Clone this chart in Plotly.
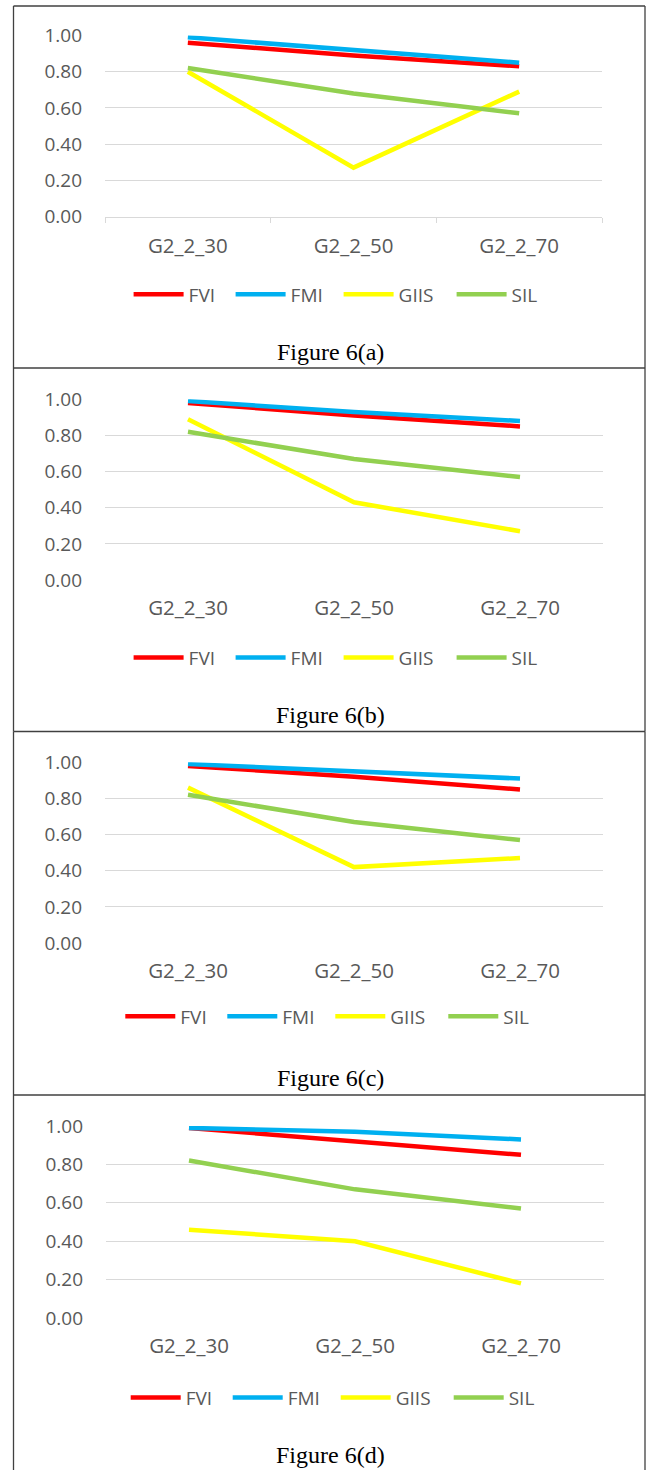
import plotly.graph_objects as go

# ---------------- data ----------------
categories = ["G2_2_30", "G2_2_50", "G2_2_70"]
series_names = ["FVI", "FMI", "GIIS", "SIL"]
y_ticks = [0.0, 0.2, 0.4, 0.6, 0.8, 1.0]
y_tick_labels = ["0.00", "0.20", "0.40", "0.60", "0.80", "1.00"]
captions = ["Figure 6(a)", "Figure 6(b)", "Figure 6(c)", "Figure 6(d)"]

fvi_a = [0.96, 0.89, 0.83]
fmi_a = [0.99, 0.92, 0.85]
giis_a = [0.80, 0.27, 0.69]
sil_a = [0.82, 0.68, 0.57]

fvi_b = [0.98, 0.91, 0.85]
fmi_b = [0.99, 0.93, 0.88]
giis_b = [0.89, 0.43, 0.27]
sil_b = [0.82, 0.67, 0.57]

fvi_c = [0.98, 0.92, 0.85]
fmi_c = [0.99, 0.95, 0.91]
giis_c = [0.86, 0.42, 0.47]
sil_c = [0.82, 0.67, 0.57]

fvi_d = [0.99, 0.92, 0.85]
fmi_d = [0.99, 0.97, 0.93]
giis_d = [0.46, 0.40, 0.18]
sil_d = [0.82, 0.67, 0.57]

panel_series = [
    [fvi_a, fmi_a, giis_a, sil_a],
    [fvi_b, fmi_b, giis_b, sil_b],
    [fvi_c, fmi_c, giis_c, sil_c],
    [fvi_d, fmi_d, giis_d, sil_d],
]

# ---------------- style / layout ----------------
W, H = 648, 1470
colors = ["#FF0000", "#00B0F0", "#FFFF00", "#92D050"]
legend_widths = [37, 43, 48, 30]   # per-entry text slot widths (px)
grid_col = "#D9D9D9"
text_col = "#595959"
sans = "Open Sans"
serif = "Liberation Serif"

panels = [
    dict(top=35.5, bottom=216.5, left=105, right=602, leg_x=133.6, leg_y=294.3, cap_y=351.7, box=(6, 368), ticks=True),
    dict(top=399.3, bottom=580, left=105, right=603, leg_x=133.6, leg_y=657.7, cap_y=715, box=(368, 731.5), ticks=False),
    dict(top=762.3, bottom=943, left=105, right=603, leg_x=125.3, leg_y=1016.3, cap_y=1078, box=(731.5, 1095), ticks=False),
    dict(top=1126, bottom=1318, left=106, right=604, leg_x=130.7, leg_y=1397.7, cap_y=1455.3, box=(1095, 1470), ticks=False),
]

def px_x(x):
    return x / W

def px_y(y):
    return 1 - y / H

fig = go.Figure()
layout = dict(
    width=W, height=H,
    margin=dict(l=0, r=0, t=0, b=0, autoexpand=False),
    paper_bgcolor="white", plot_bgcolor="white",
    showlegend=True,
)
shapes = []
annotations = []
border = dict(color="#404040", width=1.3)
bx0, bx1 = 13.5, 645

for i, (p, series) in enumerate(zip(panels, panel_series)):
    sfx = "" if i == 0 else str(i + 1)
    leg = "legend" + sfx
    for name, vals, col, lw in zip(series_names, series, colors, legend_widths):
        fig.add_trace(go.Scatter(
            x=categories, y=vals, name=name, mode="lines",
            line=dict(color=col, width=4.5),
            cliponaxis=False, legend=leg, legendwidth=lw,
            xaxis="x" + sfx, yaxis="y" + sfx,
        ))
    xa = dict(
        domain=[px_x(p["left"]), px_x(p["right"])],
        anchor="y" + sfx,
        type="category", range=[-0.5, 2.5],
        showgrid=False, zeroline=False, automargin=False,
        tickfont=dict(family=sans, size=20.5, color=text_col),
        fixedrange=True,
    )
    if p["ticks"]:
        xa.update(showline=True, linecolor=grid_col, linewidth=1.3,
                  ticks="outside", ticklen=5, tickcolor=grid_col, tickwidth=1.3,
                  tickson="boundaries", ticklabelstandoff=11)
    else:
        xa.update(showline=False, ticks="", ticklabelstandoff=13)
    ya = dict(
        domain=[px_y(p["bottom"]), px_y(p["top"])],
        anchor="x" + sfx,
        range=[0, 1],
        tickvals=y_ticks, ticktext=y_tick_labels,
        showgrid=True, gridcolor=grid_col, gridwidth=1.3,
        zeroline=False, showline=False, ticks="", automargin=False,
        tickfont=dict(family=sans, size=19, color=text_col),
        ticklabelstandoff=22,
        fixedrange=True,
    )
    layout["xaxis" + sfx] = xa
    layout["yaxis" + sfx] = ya
    layout[leg] = dict(
        orientation="h",
        x=px_x(p["leg_x"] - 5), xanchor="left",
        y=px_y(p["leg_y"]), yanchor="middle",
        font=dict(family=sans, size=19, color=text_col),
        bgcolor="rgba(0,0,0,0)", borderwidth=0,
        itemwidth=50,
        tracegroupgap=0,
    )
    annotations.append(dict(
        text=captions[i], xref="paper", yref="paper",
        x=px_x(330), y=px_y(p["cap_y"]), xanchor="center", yanchor="middle",
        showarrow=False, font=dict(family=serif, size=24, color="black"),
    ))
    y0, y1 = p["box"]
    # top, left, right edges (bottom edge of each box = top edge of the next)
    shapes.append(dict(type="line", xref="paper", yref="paper",
                       x0=px_x(bx0), x1=px_x(bx1), y0=px_y(y0), y1=px_y(y0), line=border))
    shapes.append(dict(type="line", xref="paper", yref="paper",
                       x0=px_x(bx0), x1=px_x(bx0), y0=px_y(y0), y1=px_y(y1), line=border))
    shapes.append(dict(type="line", xref="paper", yref="paper",
                       x0=px_x(bx1), x1=px_x(bx1), y0=px_y(y0), y1=px_y(y1), line=border))

layout["shapes"] = shapes
layout["annotations"] = annotations
fig.update_layout(**layout)
fig.write_html(
    "out.html",
    config={"displayModeBar": False},
    post_script="document.documentElement.style.margin='0';document.body.style.margin='0';document.body.style.overflow='hidden';",
)
